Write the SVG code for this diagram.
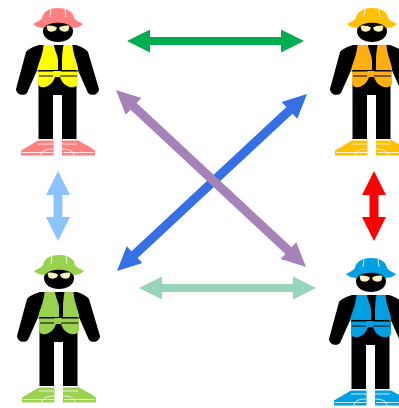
<svg xmlns="http://www.w3.org/2000/svg" width="399" height="408" viewBox="0 0 399 408">
<style>
.k{fill:#000}.w{fill:none;stroke:#fff;stroke-width:.8}.g{fill:#fbf3c0}
.pink{color:#ff8080}.orange{color:#ffc000}.green{color:#9ad14f}.blue{color:#00a0e3}
.vy{color:#ffff00}.vo{color:#ffb010}
</style>
<defs>
<g id="hat">
<path fill="currentColor" d="M33 24C37 22 41 20 42 18C43 11 50 8 58 8C66 8 73 11 74 18C75 20 79 22 83 24C80 27 76 28 72 28C68 21 48 21 44 28C40 28 36 27 33 24Z"/>
<path class="w" d="M51 9L50 17M65 9L66 17"/>
</g>
<g id="glasses">
<path class="g" d="M46.500 26C50 25 54 26 57 27.500L56 30C53 32.500 49 32 47.500 30ZM59 27.500C62 26 66 25 69.500 26L68.500 30C67 32 63 32.500 60 30Z"/>
</g>
<g id="body">
<path class="k" d="M43 31C43 25 49 22 58 22C67 22 73 25 73 31C73 38 66 42 58 42C50 42 43 38 43 31Z"/>
<path class="k" d="M39 45C33 47 28 49 26 52L16 89C16 94 23 97 27 93L38.500 67V139H53V95H62V139H76.500V67L88 93C92 97 99 94 99 89L88 52C86 49 82 47 76 45Z"/>
</g>
<g id="vest">
<path fill="currentColor" d="M43.500 45H54C54.500 50 58 56 58 60V70H37.500V68C39 62 43 54 43.500 45ZM62 70V60C62 56 62.500 50 63.500 45H72.500C73 54 77 62 78 68V70Z"/>
<path fill="currentColor" d="M38 71H78V83C78 86 74 88 70 87C65 86 61 81 60 77H55C54 81 50 86 45 87C41 88 38 86 38 83Z"/>
<path d="M37.500 71H53.500M60.500 71H78M39 76H53M60 76H77" stroke="#000" stroke-width="1.100" fill="none"/>
</g>
<g id="shoes">
<path fill="currentColor" d="M27 147L38 140.500H53.500V155.500H21V150.500ZM62 140.500H78L90 147L95 150.500V155.500H62Z"/>
<path class="w" d="M22 152.500H53M63 152.500H94M41 155.500C41 151 46 149 53 149M62 149C69 149 74 151 74 155.500M38 144H53M62 144H77"/>
</g>
</defs>
<g id="connectors">
<g id="arrow-green"><polygon fill="#00ad50" points="0,0 23,-11.500 23,-4 154,-4 154,-11.500 177,0 154,11.500 154,4 23,4 23,11.500" transform="translate(127 41)"/></g>
<g id="arrow-teal"><polygon fill="#98d3bb" points="0,0 23,-11.500 23,-4 154,-4 154,-11.500 177,0 154,11.500 154,4 23,4 23,11.500" transform="translate(139 288)"/></g>
<g id="arrow-lightblue"><polygon fill="#8cc4ff" points="0,0 24,-12 24,-4.500 46,-4.500 46,-12 70,0 46,12 46,4.500 24,4.500 24,12" transform="translate(58 171) rotate(90)"/></g>
<g id="arrow-red"><polygon fill="#ff0000" points="0,0 24,-12 24,-4.500 46,-4.500 46,-12 70,0 46,12 46,4.500 24,4.500 24,12" transform="translate(374 171) rotate(90)"/></g>
<g id="arrow-blue"><polygon fill="#3670e4" points="0,0 24,-11.500 24,-4.500 235.700,-4.500 235.700,-11.500 259.700,0 235.700,11.500 235.700,4.500 24,4.500 24,11.500" transform="translate(117 271) rotate(-42.970)"/></g>
<g id="arrow-purple"><polygon fill="#a583b8" points="0,0 24,-11.500 24,-4.500 235.700,-4.500 235.700,-11.500 259.700,0 235.700,11.500 235.700,4.500 24,4.500 24,11.500" transform="translate(116 90) rotate(42.970)"/></g>
</g>
<g id="worker-pink">
<use href="#body"/><g class="vy"><use href="#vest"/></g><g class="pink"><use href="#hat"/><use href="#shoes"/></g><use href="#glasses"/>
</g>
<g id="worker-orange" transform="translate(314 0)">
<use href="#body"/><g class="vo"><use href="#vest"/></g><g class="orange"><use href="#hat"/><use href="#shoes"/></g><use href="#glasses"/>
</g>
<g id="worker-green" transform="translate(1 247)">
<use href="#body"/><g class="green"><use href="#vest"/><use href="#hat"/><use href="#shoes"/></g><use href="#glasses"/>
</g>
<g id="worker-blue" transform="translate(313 250)">
<use href="#body"/><g class="blue"><use href="#vest"/><use href="#hat"/><use href="#shoes"/></g><use href="#glasses"/>
</g>
</svg>
